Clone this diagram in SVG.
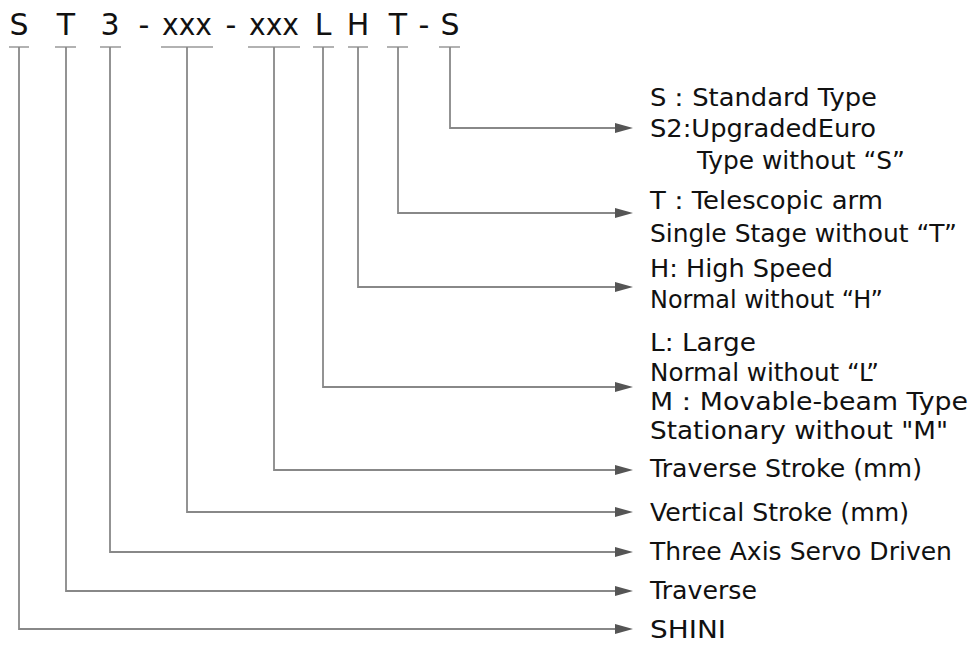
<svg xmlns="http://www.w3.org/2000/svg" width="971" height="645" viewBox="0 0 971 645">
<style>
.code{font-family:"DejaVu Sans","Liberation Sans",sans-serif;font-size:30px;fill:#111;text-anchor:middle}
.lbl{font-family:"DejaVu Sans","Liberation Sans",sans-serif;font-size:25px;fill:#111}
.ln{fill:none;stroke:#888;stroke-width:1.8}
.tick{fill:none;stroke:#999;stroke-width:1.5}
</style>
<defs>
<marker id="arr" markerWidth="18" markerHeight="10" refX="0" refY="5" orient="auto" markerUnits="userSpaceOnUse"><path d="M0,0 L18,5 L0,10 z" fill="#555"/></marker>
</defs>
<rect width="971" height="645" fill="#fff"/>
<g id="code">
<text class="code" x="19" y="35">S</text>
<text class="code" x="66" y="35">T</text>
<text class="code" x="110" y="35">3</text>
<text class="code" x="144" y="35">-</text>
<text class="code" x="187" y="35" textLength="50" lengthAdjust="spacingAndGlyphs">xxx</text>
<text class="code" x="231" y="35">-</text>
<text class="code" x="274" y="35" textLength="50" lengthAdjust="spacingAndGlyphs">xxx</text>
<text class="code" x="323" y="35">L</text>
<text class="code" x="358" y="35">H</text>
<text class="code" x="398" y="35">T</text>
<text class="code" x="424" y="35">-</text>
<text class="code" x="450" y="35">S</text>
</g>
<g id="connectors">
<path class="tick" d="M9,47H29 M55,47H76 M100,47H121 M161,47H213 M248,47H300 M313,47H334 M348,47H368 M387,47H408 M439,47H460"/>
<path class="ln" d="M450,47V128H615" marker-end="url(#arr)"/>
<path class="ln" d="M398,47V213H615" marker-end="url(#arr)"/>
<path class="ln" d="M358,47V287H615" marker-end="url(#arr)"/>
<path class="ln" d="M323,47V387H615" marker-end="url(#arr)"/>
<path class="ln" d="M274,47V470H615" marker-end="url(#arr)"/>
<path class="ln" d="M187,47V512H615" marker-end="url(#arr)"/>
<path class="ln" d="M110,47V552H615" marker-end="url(#arr)"/>
<path class="ln" d="M66,47V591H615" marker-end="url(#arr)"/>
<path class="ln" d="M19,47V629H615" marker-end="url(#arr)"/>
</g>
<g id="node-s">
<text class="lbl" x="650" y="106" textLength="227" lengthAdjust="spacingAndGlyphs">S：Standard Type</text>
<text class="lbl" x="650" y="137" textLength="226" lengthAdjust="spacingAndGlyphs">S2:UpgradedEuro</text>
<text class="lbl" x="697" y="169" textLength="208" lengthAdjust="spacingAndGlyphs">Type without “S”</text>
</g>
<g id="node-t">
<text class="lbl" x="650" y="209" textLength="233" lengthAdjust="spacingAndGlyphs">T：Telescopic arm</text>
<text class="lbl" x="650" y="242" textLength="307" lengthAdjust="spacingAndGlyphs">Single Stage without “T”</text>
</g>
<g id="node-h">
<text class="lbl" x="650" y="277" textLength="183" lengthAdjust="spacingAndGlyphs">H: High Speed</text>
<text class="lbl" x="650" y="308" textLength="233" lengthAdjust="spacingAndGlyphs">Normal without “H”</text>
</g>
<g id="node-l">
<text class="lbl" x="650" y="351" textLength="106" lengthAdjust="spacingAndGlyphs">L: Large</text>
<text class="lbl" x="650" y="381" textLength="229" lengthAdjust="spacingAndGlyphs">Normal without “L”</text>
<text class="lbl" x="650" y="410" textLength="318" lengthAdjust="spacingAndGlyphs">M：Movable-beam Type</text>
<text class="lbl" x="650" y="439" textLength="298" lengthAdjust="spacingAndGlyphs">Stationary without "M"</text>
</g>
<g id="node-xxx2">
<text class="lbl" x="650" y="477" textLength="272" lengthAdjust="spacingAndGlyphs">Traverse Stroke (mm)</text>
</g>
<g id="node-xxx">
<text class="lbl" x="650" y="521" textLength="259" lengthAdjust="spacingAndGlyphs">Vertical Stroke (mm)</text>
</g>
<g id="node-3">
<text class="lbl" x="650" y="560" textLength="302" lengthAdjust="spacingAndGlyphs">Three Axis Servo Driven</text>
</g>
<g id="node-traverse">
<text class="lbl" x="650" y="599" textLength="107" lengthAdjust="spacingAndGlyphs">Traverse</text>
</g>
<g id="node-shini">
<text class="lbl" x="650" y="638" textLength="76" lengthAdjust="spacingAndGlyphs">SHINI</text>
</g>
</svg>
